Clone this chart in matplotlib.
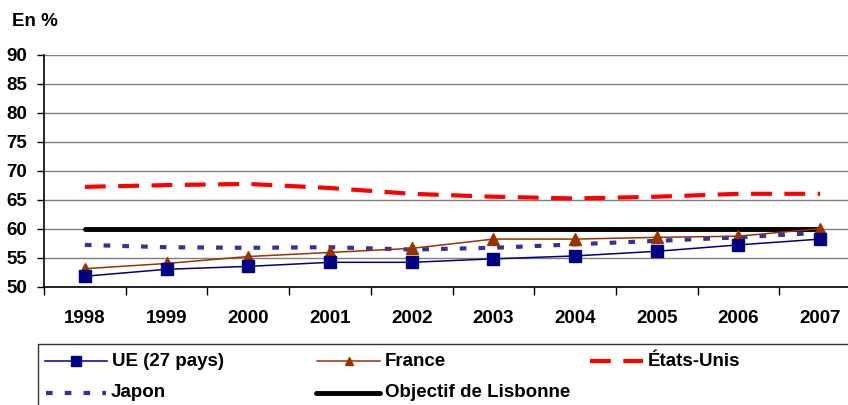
import matplotlib
matplotlib.use('Agg')
import matplotlib.pyplot as plt
from matplotlib.lines import Line2D
from matplotlib.patches import Rectangle

plt.rcParams['font.family'] = ['Liberation Sans', 'DejaVu Sans']
plt.rcParams['font.weight'] = 'bold'

years = ['1998', '1999', '2000', '2001', '2002', '2003', '2004', '2005', '2006', '2007']
ue27 = [51.8, 53.0, 53.5, 54.2, 54.2, 54.8, 55.3, 56.1, 57.2, 58.2]
france = [53.1, 54.0, 55.2, 55.9, 56.6, 58.2, 58.2, 58.5, 58.7, 60.0]
etats_unis = [67.2, 67.5, 67.7, 67.0, 66.0, 65.5, 65.2, 65.5, 66.0, 66.0]
japon = [57.2, 56.8, 56.7, 56.8, 56.4, 56.7, 57.3, 57.9, 58.5, 59.3]
lisbonne = [60, 60, 60, 60, 60, 60, 60, 60, 60, 60]
y_ticks = [50, 55, 60, 65, 70, 75, 80, 85, 90]

W, H = 848, 405
FS = 13.5

fig = plt.figure(figsize=(W / 100, H / 100), dpi=100)
# axes box in pixels: left 44, right 861 (cut off by the image edge), top 54.5, bottom 286.7
ax = fig.add_axes([44 / W, (H - 286.7) / H, (861 - 44) / W, (286.7 - 54.5) / H])

x = list(range(len(years)))

styles = {
    'UE (27 pays)': dict(color='#000080', lw=1.1, marker='s', ms=8),
    'France': dict(color='#993300', lw=1.1, marker='^', ms=9),
    'États-Unis': dict(color='#ff0000', lw=3, dashes=(5, 3)),
    'Japon': dict(color='#333399', lw=3, dashes=(1.6, 2.9)),
    'Objectif de Lisbonne': dict(color='black', lw=3.5, solid_capstyle='round'),
}
series = {
    'UE (27 pays)': ue27,
    'France': france,
    'États-Unis': etats_unis,
    'Japon': japon,
    'Objectif de Lisbonne': lisbonne,
}
order = ['Objectif de Lisbonne', 'États-Unis', 'Japon', 'France', 'UE (27 pays)']
for name in order:
    ax.plot(x, series[name], **styles[name], zorder=3)

ax.set_xlim(-0.5, len(years) - 0.5)
ax.set_ylim(50, 90)
ax.set_yticks(y_ticks)
ax.set_yticklabels([str(v) for v in y_ticks], fontsize=FS, fontweight='bold')
ax.yaxis.grid(True, color='#7f7f7f', lw=1)
ax.set_axisbelow(True)

# category boundaries get the tick marks, labels sit in the middle
ax.set_xticks([i - 0.5 for i in range(len(years) + 1)])
ax.set_xticklabels([])
ax.set_xticks(x, minor=True)
ax.set_xticklabels(years, minor=True, fontsize=FS, fontweight='bold')
ax.tick_params(axis='x', which='major', direction='out', length=6, width=1, color='black')
ax.tick_params(axis='x', which='minor', length=0, pad=17)
ax.tick_params(axis='y', direction='out', length=5, width=1, pad=7)

for side in ['top', 'right']:
    ax.spines[side].set_visible(False)
for side in ['left', 'bottom']:
    ax.spines[side].set_color('black')
    ax.spines[side].set_linewidth(1.2)

fig.text(12 / W, 1 - 22 / H, 'En %', fontsize=FS, fontweight='bold', va='center', ha='left')

# legend drawn in pixel coordinates on an overlay
lax = fig.add_axes([0, 0, 1, 1])
lax.set_xlim(0, W)
lax.set_ylim(H, 0)
lax.axis('off')
lax.add_patch(Rectangle((38, 344), W, 100, fill=False, ec='#333333', lw=1))

legend_pos = {
    'UE (27 pays)': (45, 107, 361),
    'France': (317, 380, 361),
    'États-Unis': (590, 643, 361),
    'Japon': (46, 106, 392.5),
    'Objectif de Lisbonne': (316, 380, 392.5),
}
for name, (x0, x1, yy) in legend_pos.items():
    st = dict(styles[name])
    mk = st.pop('marker', None)
    ms = st.pop('ms', None)
    lax.add_line(Line2D([x0, x1], [yy, yy], **st))
    if mk:
        lax.add_line(Line2D([(x0 + x1) / 2], [yy], color=st['color'], marker=mk,
                            ms=ms * 0.95 if mk == 's' else ms * 0.7, ls='none'))
    lax.text(x1 + 5, yy, name, fontsize=FS, fontweight='bold', va='center', ha='left')

fig.savefig('out.png', dpi=100)
